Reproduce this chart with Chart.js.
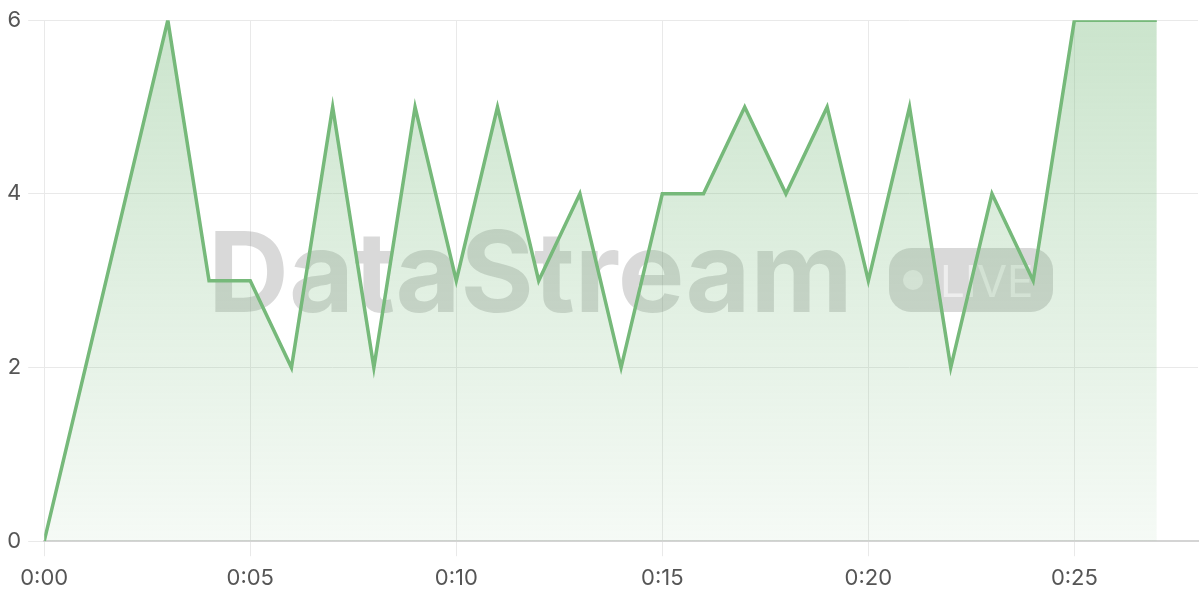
<!DOCTYPE html>
<html>
<head>
<meta charset="utf-8">
<script src="https://cdn.jsdelivr.net/npm/chart.js@4/dist/chart.umd.min.js"></script>
<style>
  html, body { margin: 0; padding: 0; background: #fff; }
  #wrap { width: 1200px; height: 600px; }
</style>
</head>
<body>
<div id="wrap"><canvas id="chart"></canvas></div>
<script>
// minutes since start, and the value at each minute
const minutes = [0, 1, 2, 3, 4, 5, 6, 7, 8, 9, 10, 11, 12, 13, 14, 15, 16, 17, 18, 19, 20, 21, 22, 23, 24, 25, 26, 27];
const values = [0, 2, 4, 6, 3, 3, 2, 5, 2, 5, 3, 5, 3, 4, 2, 4, 4, 5, 4, 5, 3, 5, 2, 4, 3, 6, 6, 6];
const yTicks = [0, 2, 4, 6];
const xTicks = [0, 5, 10, 15, 20, 25];

const green = 'rgb(118, 185, 122)';

function fmtMinute(v) {
  const h = Math.floor(v / 60);
  const m = v % 60;
  return h + ':' + String(m).padStart(2, '0');
}

// watermark drawn under the line
const watermark = {
  id: 'watermark',
  beforeDatasetsDraw(chart) {
    const { ctx } = chart;
    ctx.save();
    ctx.fillStyle = 'rgba(80, 80, 80, 0.22)';
    ctx.font = 'bold 112px Inter, "Open Sans", sans-serif';
    ctx.textBaseline = 'alphabetic';
    ctx.textAlign = 'left';
    ctx.fillText('DataStream', 208, 312, 664);

    // LIVE pill
    const px = 889, py = 248, pw = 164, ph = 64, r = 22;
    ctx.beginPath();
    ctx.roundRect(px, py, pw, ph, r);
    ctx.fill();
    ctx.fillStyle = 'rgba(255, 255, 255, 0.55)';
    ctx.beginPath();
    ctx.arc(913, 280, 10, 0, Math.PI * 2);
    ctx.fill();
    ctx.font = '44px Inter, "Open Sans", sans-serif';
    ctx.fillText('LIVE', 940, 297, 96);
    ctx.restore();
  }
};

const ctx = document.getElementById('chart');

new Chart(ctx, {
  type: 'line',
  data: {
    datasets: [{
      data: minutes.map((m, i) => ({ x: m, y: values[i] })),
      borderColor: green,
      borderWidth: 3.5,
      pointRadius: 0,
      tension: 0,
      fill: 'origin',
      backgroundColor: function(context) {
        const area = context.chart.chartArea;
        if (!area) return 'rgba(118, 185, 122, 0.2)';
        const g = context.chart.ctx.createLinearGradient(0, area.top, 0, area.bottom);
        g.addColorStop(0, 'rgba(118, 185, 122, 0.38)');
        g.addColorStop(1, 'rgba(118, 185, 122, 0.07)');
        return g;
      }
    }]
  },
  options: {
    responsive: true,
    maintainAspectRatio: false,
    animation: false,
    layout: {
      padding: { top: 10, right: 2, left: 0, bottom: 0 }
    },
    plugins: {
      legend: { display: false },
      tooltip: { enabled: false }
    },
    scales: {
      x: {
        type: 'linear',
        min: 0,
        max: 28,
        afterBuildTicks: function(scale) {
          scale.ticks = xTicks.map(v => ({ value: v }));
        },
        grid: {
          color: '#e9e9e9',
          lineWidth: 1,
          tickLength: 15
        },
        border: { color: '#d4d4d4', width: 2 },
        ticks: {
          color: '#555',
          font: { family: 'Inter, sans-serif', size: 22, lineHeight: 0.9 },
          padding: 12,
          maxRotation: 0,
          callback: function(value) {
            return fmtMinute(value);
          }
        }
      },
      y: {
        min: 0,
        max: 6,
        afterBuildTicks: function(scale) {
          scale.ticks = yTicks.map(v => ({ value: v }));
        },
        grid: {
          color: '#e9e9e9',
          lineWidth: 1,
          tickLength: 16
        },
        border: { display: false },
        ticks: {
          color: '#555',
          font: { family: 'Inter, sans-serif', size: 22 },
          padding: 7
        }
      }
    }
  },
  plugins: [watermark]
});
</script>
</body>
</html>
